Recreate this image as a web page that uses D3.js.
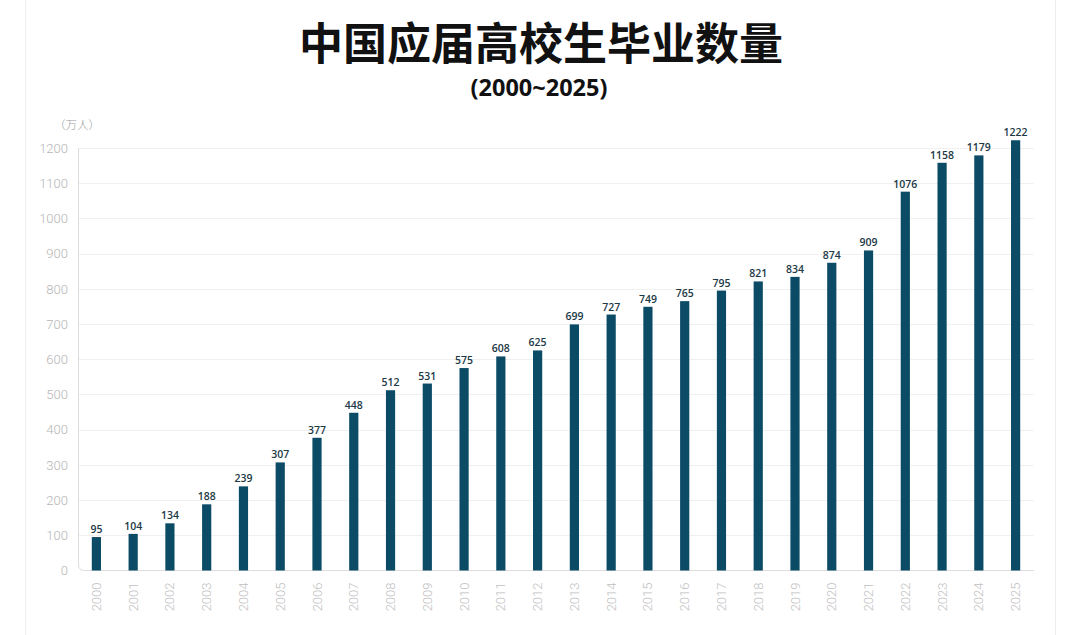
<!DOCTYPE html>
<html><head><meta charset="utf-8">
<script src="https://cdn.jsdelivr.net/npm/d3@7"></script>
<style>html,body{margin:0;padding:0;background:#fff;}svg{display:block;}</style>
</head><body>
<svg id="chart" width="1080" height="635"></svg>
<script>
const years = ["2000","2001","2002","2003","2004","2005","2006","2007","2008","2009","2010","2011","2012","2013","2014","2015","2016","2017","2018","2019","2020","2021","2022","2023","2024","2025"];
const graduates = [95,104,134,188,239,307,377,448,512,531,575,608,625,699,727,749,765,795,821,834,874,909,1076,1158,1179,1222];
const yTicks = [0,100,200,300,400,500,600,700,800,900,1000,1100,1200];
const titleText = "中国应届高校生毕业数量";
const subtitleText = "(2000~2025)";
const unitText = "（万人）";

const svg = d3.select("#chart");
const L = 78, R = 1034, T = 148, B = 570.5;

const x = d3.scaleBand().domain(years).range([L, R]).paddingInner(0.75).paddingOuter(0.375);
const y = d3.scaleLinear().domain([0, 1200]).range([B, T]);

// page frame lines
svg.append("line").attr("x1",25.5).attr("x2",25.5).attr("y1",0).attr("y2",635).attr("stroke","#eeeeee");
svg.append("line").attr("x1",1055.5).attr("x2",1055.5).attr("y1",0).attr("y2",635).attr("stroke","#eeeeee");

// title
svg.append("text").attr("x",541).attr("y",60).attr("text-anchor","middle")
  .attr("font-family","'Noto Sans CJK SC', sans-serif").attr("font-weight",700)
  .attr("font-size",44).attr("fill","#111").text(titleText);
svg.append("text").attr("x",539).attr("y",96).attr("text-anchor","middle")
  .attr("font-family","'Open Sans','Noto Sans', sans-serif").attr("font-weight",700)
  .attr("font-size",23.5).attr("fill","#111").text(subtitleText);
svg.append("text").attr("x",54).attr("y",129)
  .attr("font-family","'Noto Sans CJK SC', sans-serif").attr("font-weight",300)
  .attr("font-size",11.5).attr("fill","#999").text(unitText);

// gridlines
svg.append("g").selectAll("line").data(yTicks.filter(d => d > 0)).join("line")
  .attr("x1", L).attr("x2", R)
  .attr("y1", d => Math.round(y(d)) + 0.5).attr("y2", d => Math.round(y(d)) + 0.5)
  .attr("stroke", "#f0f0f0").attr("stroke-width", 1);

// axis frame (left + bottom with rounded corner)
const r = 6;
svg.append("path")
  .attr("d", `M${L + 0.5},${T} L${L + 0.5},${B - r} Q${L + 0.5},${B} ${L + 0.5 + r},${B} L${R},${B}`)
  .attr("fill","none").attr("stroke","#dddddd").attr("stroke-width",1);

// y axis labels
const yAxis = d3.axisLeft(y).tickValues(yTicks).tickFormat(d3.format("d")).tickSize(0).tickPadding(10);
const gy = svg.append("g").attr("transform", `translate(${L},0)`).call(yAxis);
gy.select(".domain").remove();
gy.selectAll("text").attr("font-family","Roboto, sans-serif").attr("font-weight",300)
  .attr("font-size",13).attr("fill","#b5b5b5");

// x axis labels
const xAxis = d3.axisBottom(x).tickSize(0).tickPadding(0);
const gx = svg.append("g").attr("transform", `translate(0,${B})`).call(xAxis);
gx.select(".domain").remove();
gx.selectAll("text")
  .attr("font-family","Roboto, sans-serif").attr("font-weight",300)
  .attr("font-size",13).attr("fill","#c0c0c0")
  .attr("transform","rotate(-90)")
  .attr("text-anchor","end").attr("dy","0.35em")
  .attr("x",-12).attr("y",0);

// bars
svg.append("g").selectAll("rect").data(years).join("rect")
  .attr("x", (d) => x(d))
  .attr("width", x.bandwidth())
  .attr("y", (d, i) => y(graduates[i]))
  .attr("height", (d, i) => B - y(graduates[i]))
  .attr("fill", "#0b4b66");

// value labels
svg.append("g").selectAll("text").data(years).join("text")
  .attr("x", d => x(d) + x.bandwidth() / 2)
  .attr("y", (d, i) => y(graduates[i]) - 4)
  .attr("text-anchor","middle")
  .attr("font-family","'Open Sans', sans-serif").attr("font-weight",600)
  .attr("font-size",10.5).attr("fill","#1c3945")
  .text((d, i) => graduates[i]);
</script>
</body></html>
